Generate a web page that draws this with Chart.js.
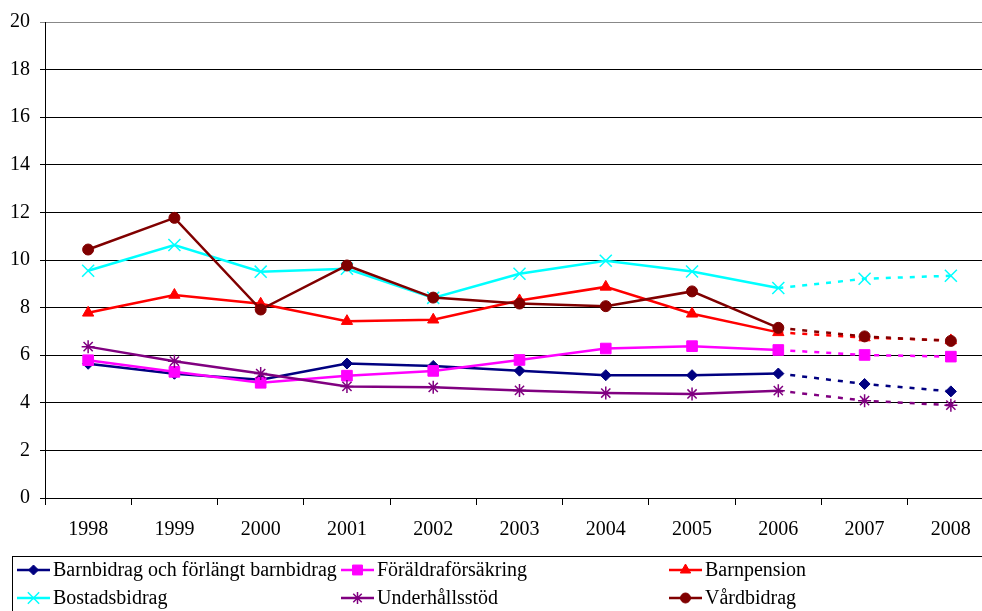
<!DOCTYPE html>
<html>
<head>
<meta charset="utf-8">
<script src="https://cdn.jsdelivr.net/npm/chart.js@4.4.0/dist/chart.umd.min.js"></script>
<style>
  html, body { margin: 0; padding: 0; background: #fff; overflow: hidden; }
  #wrap { width: 1004px; height: 611px; }
</style>
</head>
<body>
<div id="wrap"><canvas id="myChart" width="1004" height="611"></canvas></div>
<script>
// categories and series
let years = ['1998', '1999', '2000', '2001', '2002', '2003', '2004', '2005', '2006', '2007', '2008'];

let barnbidrag   = [5.64, 5.22, 4.97, 5.65, 5.55, 5.35, 5.16, 5.16, 5.23, 4.79, 4.48];
let foraldra     = [5.79, 5.30, 4.84, 5.14, 5.34, 5.80, 6.28, 6.38, 6.22, 6.01, 5.94];
let barnpension  = [7.78, 8.53, 8.16, 7.43, 7.49, 8.30, 8.87, 7.74, 6.96, 6.74, 6.62];
let bostad       = [9.55, 10.63, 9.51, 9.63, 8.41, 9.42, 9.97, 9.52, 8.82, 9.21, 9.34];
let underhall    = [6.36, 5.75, 5.23, 4.69, 4.65, 4.52, 4.41, 4.37, 4.51, 4.09, 3.90];
let vardbidrag   = [10.44, 11.77, 7.92, 9.77, 8.42, 8.17, 8.06, 8.68, 7.15, 6.79, 6.60];

let seriesNames  = ['Barnbidrag och förlängt barnbidrag', 'Föräldraförsäkring', 'Barnpension',
                    'Bostadsbidrag', 'Underhållsstöd', 'Vårdbidrag'];
let seriesData   = [barnbidrag, foraldra, barnpension, bostad, underhall, vardbidrag];

let yTicks = [0, 2, 4, 6, 8, 10, 12, 14, 16, 18, 20];

// styles
let colors  = ['#000080', '#FF00FF', '#FF0000', '#00FFFF', '#800080', '#800000'];
let markers = ['rectRot', 'rect', 'triangle', 'crossRot', 'star', 'circle'];
let radii   = [5.5, 7.5, 6.5, 8.5, 6.5, 5.5];

const FONT = '"Liberation Serif", "Times New Roman", serif';
const lastActual = 8;   // 2006 is the last outcome, after that dotted

function isLineMarker(m) { return m == 'crossRot' || m == 'star'; }

function makeDatasets() {
    return seriesNames.map((name, i) => ({
        label: name,
        data: seriesData[i],
        borderColor: colors[i],
        backgroundColor: colors[i],
        pointBorderColor: colors[i],
        pointBackgroundColor: colors[i],
        pointStyle: markers[i],
        pointRadius: radii[i],
        pointBorderWidth: isLineMarker(markers[i]) ? 1.5 : 1,
        borderWidth: 2.5,
        tension: 0,
        order: seriesNames.length - i,   // last series on top, like the original
        segment: {
            borderDash: ctx => ctx.p0DataIndex >= lastActual ? [5, 7] : undefined
        }
    }));
}

// legend box in three columns under the axis
const boxLegend = {
    id: 'boxLegend',
    afterDraw(chart) {
        const ctx = chart.ctx;
        const colX = [17, 341, 669];
        const rowY = [570, 598];
        ctx.save();
        ctx.strokeStyle = '#000';
        ctx.lineWidth = 1;
        ctx.strokeRect(12.5, 556.5, 1000, 100);
        ctx.font = '20px ' + FONT;
        ctx.textBaseline = 'middle';
        seriesNames.forEach((name, i) => {
            const x = colX[i % 3];
            const y = rowY[Math.floor(i / 3)];
            ctx.strokeStyle = colors[i];
            ctx.fillStyle = colors[i];
            ctx.lineWidth = 2.5;
            ctx.setLineDash([]);
            ctx.beginPath();
            ctx.moveTo(x, y);
            ctx.lineTo(x + 33, y);
            ctx.stroke();
            ctx.lineWidth = isLineMarker(markers[i]) ? 1.5 : 1;
            Chart.helpers.drawPoint(ctx, {
                pointStyle: markers[i],
                radius: radii[i] - 0.5,
                rotation: 0,
                borderWidth: ctx.lineWidth
            }, x + 16.5, y);
            ctx.fillStyle = '#000';
            ctx.fillText(name, x + 36, y + 1);
        });
        ctx.restore();
    }
};

new Chart(document.getElementById('myChart'), {
    type: 'line',
    data: {
        labels: years,
        datasets: makeDatasets()
    },
    options: {
        responsive: false,
        animation: false,
        layout: { padding: { top: 20, right: 6, bottom: 0, left: 0 } },
        plugins: {
            legend: { display: false },
            tooltip: { enabled: false }
        },
        scales: {
            x: {
                offset: true,
                grid: {
                    offset: true,
                    drawOnChartArea: false,
                    drawTicks: true,
                    tickLength: 7,
                    color: '#000'
                },
                border: { display: true, color: '#000', width: 1 },
                ticks: {
                    color: '#000',
                    font: { family: FONT, size: 20 },
                    padding: 13,
                    maxRotation: 0,
                    autoSkip: false
                },
                afterFit(scale) { scale.height = 113; }
            },
            y: {
                min: 0,
                max: 20,
                afterBuildTicks(scale) { scale.ticks = yTicks.map(v => ({ value: v })); },
                grid: {
                    color: ctx => ctx.tick && ctx.tick.value == 20 ? '#888' : '#000',
                    lineWidth: 1,
                    tickLength: 5
                },
                border: { display: true, color: '#000', width: 1 },
                ticks: {
                    color: '#000',
                    font: { family: FONT, size: 20 },
                    padding: 10
                },
                afterFit(scale) { scale.width = 45; }
            }
        }
    },
    plugins: [boxLegend]
});
</script>
</body>
</html>
